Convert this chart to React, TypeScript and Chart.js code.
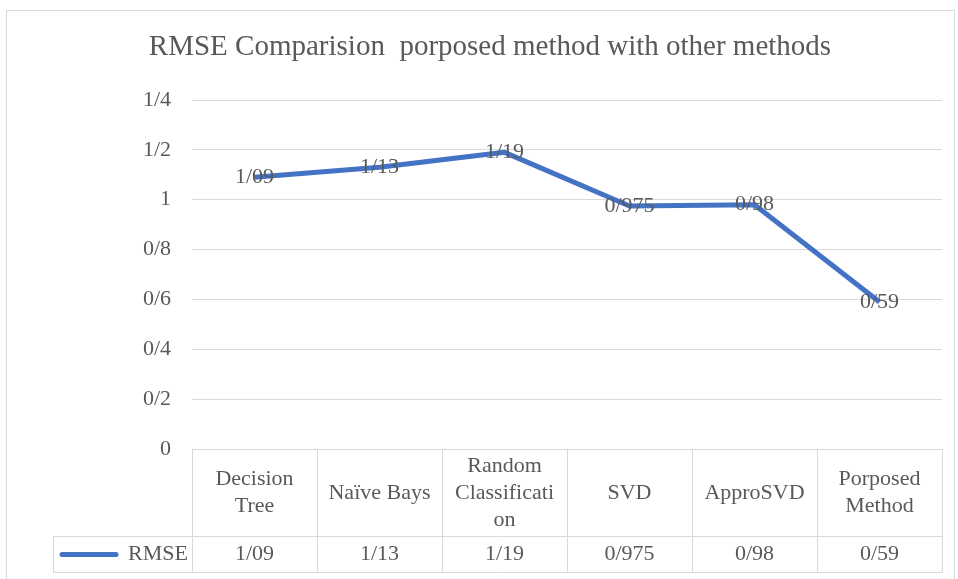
import React, { useEffect, useRef } from 'react';
import { Chart, registerables } from 'chart.js';

Chart.register(...registerables);

const TITLE = 'RMSE Comparision  porposed method with other methods';
const categories: string[][] = [
  ['Decision', 'Tree'],
  ['Naïve Bays'],
  ['Random', 'Classificati', 'on'],
  ['SVD'],
  ['ApproSVD'],
  ['Porposed', 'Method'],
];
const seriesName = 'RMSE';
const rmse = [1.09, 1.13, 1.19, 0.975, 0.98, 0.59];
const yMin = 0;
const yMax = 1.4;
const yStep = 0.2;

const FONT = '"Liberation Serif", "Times New Roman", serif';
const TEXT = '#595959';
const GRID = '#d9d9d9';
const LINE = '#4472C4';

const fmt = (v: number) => String(Math.round(v * 1000) / 1000).replace('.', '/');

const tablePlugin = {
  id: 'excelTable',
  beforeDraw(chart: any) {
    const ctx = chart.ctx;
    ctx.save();
    ctx.fillStyle = '#ffffff';
    ctx.fillRect(0, 0, chart.width, chart.height);
    ctx.strokeStyle = GRID;
    ctx.lineWidth = 1;
    ctx.strokeRect(6.5, 10.5, chart.width - 10, chart.height + 10);
    ctx.restore();
  },
  afterDatasetsDraw(chart: any) {
    const ctx = chart.ctx;
    const meta = chart.getDatasetMeta(0);
    ctx.save();
    ctx.font = `22px ${FONT}`;
    ctx.fillStyle = TEXT;
    ctx.textAlign = 'center';
    ctx.textBaseline = 'middle';
    meta.data.forEach((pt: any, i: number) => {
      ctx.fillText(fmt(rmse[i]), pt.x, pt.y);
    });
    ctx.restore();
  },
  afterDraw(chart: any) {
    const ctx = chart.ctx;
    const xs = chart.scales.x;
    const area = chart.chartArea;
    const step = xs.getPixelForValue(1) - xs.getPixelForValue(0);
    const left = xs.getPixelForValue(0) - step / 2;
    const n = categories.length;
    const right = left + n * step;
    const top = Math.round(area.bottom) + 0.5;
    const mid = top + 87;
    const bottom = mid + 36;
    const legendLeft = 53.5;

    ctx.save();
    // title
    ctx.font = `29px ${FONT}`;
    ctx.fillStyle = TEXT;
    ctx.textAlign = 'center';
    ctx.textBaseline = 'middle';
    ctx.fillText(TITLE, 490, 47);

    // table lines
    ctx.strokeStyle = GRID;
    ctx.lineWidth = 1;
    ctx.beginPath();
    ctx.moveTo(left, top);
    ctx.lineTo(right, top);
    ctx.moveTo(legendLeft, mid);
    ctx.lineTo(right, mid);
    ctx.moveTo(legendLeft, bottom);
    ctx.lineTo(right, bottom);
    ctx.moveTo(legendLeft, mid);
    ctx.lineTo(legendLeft, bottom);
    for (let i = 0; i <= n; i++) {
      const x = Math.round(left + i * step) + 0.5;
      ctx.moveTo(x, top);
      ctx.lineTo(x, bottom);
    }
    ctx.stroke();

    // header text
    ctx.font = `22px ${FONT}`;
    ctx.fillStyle = TEXT;
    const lh = 27;
    categories.forEach((lines, i) => {
      const cx = xs.getPixelForValue(i);
      const cy = (top + mid) / 2;
      const y0 = cy - ((lines.length - 1) * lh) / 2;
      lines.forEach((ln, j) => ctx.fillText(ln, cx, y0 + j * lh));
    });
    // values row
    const ry = (mid + bottom) / 2;
    rmse.forEach((v, i) => ctx.fillText(fmt(v), xs.getPixelForValue(i), ry));

    // legend cell
    ctx.textAlign = 'right';
    ctx.fillText(seriesName, left - 4, ry);
    ctx.strokeStyle = LINE;
    ctx.lineWidth = 5;
    ctx.lineCap = 'round';
    ctx.beginPath();
    ctx.moveTo(62, ry);
    ctx.lineTo(116, ry);
    ctx.stroke();
    ctx.restore();
  },
};

export default function App() {
  const ref = useRef<HTMLCanvasElement | null>(null);
  useEffect(() => {
    if (!ref.current) return;
    const chart = new Chart(ref.current, {
      type: 'line',
      data: {
        labels: categories.map((c) => c.join(' ')),
        datasets: [
          {
            label: seriesName,
            data: rmse,
            borderColor: LINE,
            backgroundColor: LINE,
            borderWidth: 5,
            pointRadius: 0,
            tension: 0,
            borderJoinStyle: 'round',
          },
        ],
      },
      options: {
        animation: false,
        responsive: true,
        maintainAspectRatio: false,
        layout: { padding: { left: 112, right: 16, top: 100, bottom: 130 } },
        plugins: {
          legend: { display: false },
          title: { display: false },
          tooltip: { enabled: false },
        },
        scales: {
          x: {
            display: false,
            offset: true,
          },
          y: {
            min: yMin,
            max: yMax,
            afterFit: (s: any) => {
              s.width = 80;
            },
            ticks: {
              stepSize: yStep,
              padding: 21,
              color: TEXT,
              font: { family: FONT, size: 22 },
              callback: (v: any) => fmt(Number(v)),
            },
            grid: { color: GRID, drawTicks: false },
            border: { display: false },
          },
        },
      },
      plugins: [tablePlugin],
    });
    return () => chart.destroy();
  }, []);
  return (
    <div style={{ position: 'fixed', left: 0, top: 0, width: 958, height: 579, background: '#fff' }}>
      <canvas ref={ref} />
    </div>
  );
}
